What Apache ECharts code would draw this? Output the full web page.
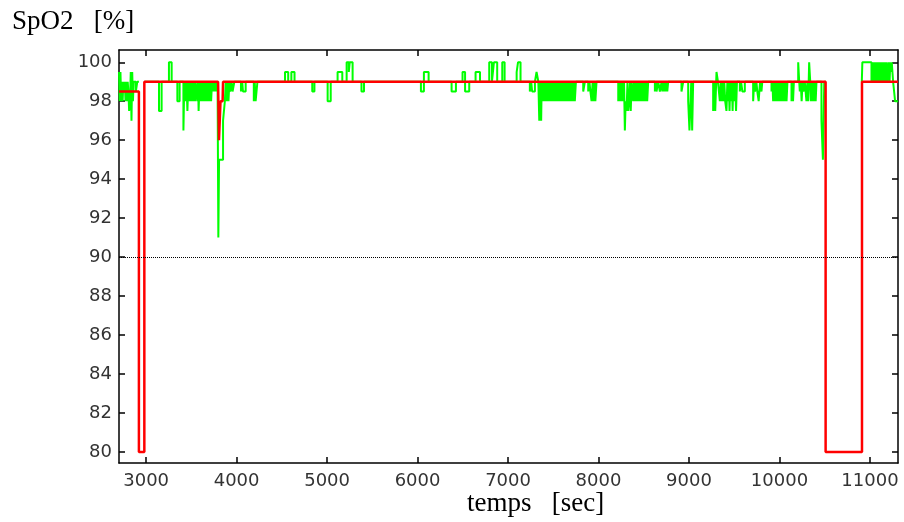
<!DOCTYPE html>
<html>
<head>
<meta charset="utf-8">
<script src="https://cdn.jsdelivr.net/npm/echarts@6/dist/echarts.min.js"></script>
<style>
  html, body { margin: 0; padding: 0; background: #fff; }
  #main { width: 904px; height: 522px; }
</style>
</head>
<body>
<div id="main"></div>
<script>
// tick labels
var xTicks = [3000, 4000, 5000, 6000, 7000, 8000, 9000, 10000, 11000];
var yTicks = [80, 82, 84, 86, 88, 90, 92, 94, 96, 98, 100];

// SpO2 mesuree (vert), valeur tenue jusqu'au point suivant, null = pas de signal
var greenTime = [
  // debut
  2700, 2708, 2716, 2724, 2732, 2740, 2748, 2756, 2764, 2772, 2780, 2788, 2796, 2804, 2812,
  2822, 2830, 2838, 2846, 2854, 2862, 2886, 2902, 2920,
  // 3000 - 4300
  2985, 3142, 3171, 3252, 3282, 3345, 3370, 3412, 3418, 3428, 3436, 3446, 3456, 3466, 3474,
  3484, 3492, 3500, 3508, 3516, 3524, 3532, 3540, 3548, 3565, 3574, 3580, 3590, 3602, 3610,
  3618, 3626, 3634, 3644, 3652, 3660, 3668, 3676, 3684, 3692, 3700, 3710, 3718, 3728, 3736,
  3744, 3752, 3760, 3768, 3776, 3790, 3798, 3806, 3850, 3870, 3880, 3890, 3900, 3910, 3920,
  3930, 3945, 3955, 3975, 4048, 4062, 4070, 4100, 4190, 4200, 4210, 4230,
  // 4500 - 7200
  4535, 4570, 4605, 4640, 4836, 4860, 5006, 5040, 5116, 5168, 5216, 5240, 5250, 5282, 5380,
  5408, 6037, 6070, 6122, 6376, 6424, 6497, 6525, 6571, 6641, 6690, 6792, 6822, 6844, 6880,
  6936, 6962, 7095, 7110, 7138,
  // 7200 - 8000
  7241, 7256, 7266, 7297, 7315, 7335, 7345, 7352, 7358, 7366, 7372, 7380, 7390, 7398, 7406,
  7414, 7422, 7432, 7440, 7448, 7456, 7464, 7472, 7480, 7490, 7500, 7508, 7516, 7524, 7536,
  7546, 7554, 7562, 7570, 7580, 7590, 7598, 7606, 7614, 7622, 7630, 7640, 7648, 7656, 7664,
  7672, 7680, 7690, 7698, 7706, 7714, 7722, 7730, 7738, 7750, 7831, 7849, 7886, 7900, 7910,
  7923, 7935, 7945, 7955, 7965, 7978,
  // 8200 - 9100
  8218, 8228, 8236, 8246, 8254, 8264, 8272, 8282, 8291, 8300, 8310, 8320, 8328, 8338, 8348,
  8356, 8366, 8383, 8392, 8400, 8410, 8418, 8426, 8434, 8444, 8452, 8460, 8470, 8478, 8486,
  8494, 8502, 8512, 8520, 8530, 8538, 8549, 8623, 8633, 8641, 8660, 8678, 8697, 8705, 8715,
  8723, 8733, 8741, 8751, 8760, 8770, 8917, 8936, 8991, 9005, 9025, 9035, 9046,
  // 9200 - 10500
  9267, 9280, 9290, 9304, 9320, 9341, 9351, 9360, 9370, 9380, 9390, 9400, 9414, 9424, 9432,
  9440, 9448, 9456, 9464, 9474, 9482, 9490, 9500, 9510, 9520, 9530, 9562, 9575, 9590, 9617,
  9709, 9720, 9730, 9745, 9755, 9770, 9785, 9801, 9810, 9912, 9922, 9930, 9940, 9948, 9958,
  9966, 9976, 9984, 9994, 10002, 10012, 10020, 10030, 10038, 10048, 10056, 10066, 10078, 10088, 10133,
  10145, 10150, 10159, 10207, 10218, 10225, 10235, 10245, 10255, 10265, 10280, 10298, 10308, 10318, 10328,
  10340, 10348, 10356, 10364, 10374, 10382, 10392, 10400, 10409, 10464, 10480, 10495, 10512,
  // fin
  10910, 10916, 11017, 11025, 11033, 11041, 11049, 11057, 11065, 11073, 11081, 11089, 11097, 11105, 11113,
  11121, 11129, 11137, 11145, 11153, 11161, 11169, 11177, 11185, 11193, 11201, 11209, 11217, 11225, 11233,
  11241, 11256, 11278, 11310
];
var greenValue = [
  99.5, 98, 99.5, 98, 99, 98, 99, 98.5, 99, 98, 99, 98, 99, 98.5, 97.5,
  98, 99.5, 97, 99.5, 98, 99, 98.5, 99, null,
  99, 97.5, 99, 100, 99, 98, 99, 96.5, 98, 99, 98, 99, 97.5, 99, 98,
  99, 98, 99, 98, 99, 98, 99, 98, 99, 98, 99, 97.5, 99, 98, 99,
  98, 99, 98, 99, 98, 99, 98, 99, 98, 99, 98, 99, 98, 99, 98.5,
  99, 98.5, 99, 98.5, 99, 98.5, 91, 95, 97, 98, 99, 98, 99, 98, 99,
  98.5, 99, 98.5, 99, 98.5, 99, 98.5, 99, 98, 99, 98, 99,
  99.5, 99, 99.5, 99, 98.5, 99, 98, 99, 99.5, 99, 100, 99.5, 100, 99, 98.5,
  99, 98.5, 99.5, 99, 98.5, 99, 99.5, 98.5, 99, 99.5, 99, 100, 99, 100, 99,
  100, 99, 99.5, 100, 99,
  98.5, 99, 98.5, 99, 99.5, 99, 97, 99, 98, 97, 99, 98, 99, 98, 99,
  98, 99, 98, 99, 98, 99, 98, 99, 98, 99, 98, 99, 98, 99, 98,
  99, 98, 99, 98, 99, 98, 99, 98, 99, 98, 99, 98, 99, 98, 99,
  98, 99, 98, 99, 98, 99, 98, 99, 98, 99, 98.5, 99, 98.5, 99, 98.5,
  98, 99, 98, 99, 98, 99,
  98, 99, 98, 99, 98, 99, 98, 99, 96.5, 98, 97.5, 99, 97.5, 98, 99,
  97.5, 99, 98, 99, 98, 99, 98, 99, 98, 99, 98, 99, 98, 99, 98,
  99, 98, 99, 98, 99, 98, 99, 98.5, 99, 98.5, 99, 98.5, 99, 98.5, 99,
  98.5, 99, 98.5, 99, 98.5, 99, 98.5, 99, 98, 96.5, 99, 96.5, 99,
  97.5, 99, 97.5, 99.5, 99, 98, 99, 98, 99, 98, 99, 98, 97.5, 99, 98,
  99, 97.5, 99, 98, 99, 97.5, 99, 98, 99, 97.5, 99, 98.5, 99, 98.5, 99,
  98, 99, 98.5, 99, 98.5, 98, 99, 98.5, 99, 98.5, 99, 98, 99, 98, 99,
  98, 99, 98, 99, 98, 99, 98, 99, 98, 99, 98, 99, 98, 99, 98,
  99, 98, 99, 100, 99, 98.5, 99, 98, 99, 98.5, 99, 98, 99, 98, 100,
  99, 98, 99, 98, 99, 98, 99, 98, 99, 97, 95, 99, null,
  99, 100, 99, 100, 99, 100, 99, 100, 99, 100, 99, 100, 99, 100, 99,
  100, 99, 100, 99, 100, 99, 100, 99, 100, 99, 99.5, 100, 99, 100, 99.5,
  100, 99, 98, 98
];

// courbe rouge
var redTime = [2700, 2920, 2920, 2980, 2980, 3795, 3805, 3812, 3822, 3845, 3850, 10510, 10510, 10912, 10912, 11310];
var redValue = [98.5, 98.5, 80, 80, 99, 99, 96, 96, 98, 98, 99, 99, 80, 80, 99, 99];

function pairs(t, v) {
  return t.map(function (x, i) { return [x, v[i] === null ? '-' : v[i]]; });
}

var chart = echarts.init(document.getElementById('main'), null, { renderer: 'canvas' });

var labelFont = { fontFamily: 'DejaVu Sans', fontSize: 18, color: '#333' };
var lineBlack = { color: '#000', width: 1.5 };

var option = {
  animation: false,
  grid: { left: 119, right: 6, top: 50, bottom: 59 },
  xAxis: [{
    type: 'value', min: 2700, max: 11310, position: 'bottom',
    axisLine: { onZero: false, lineStyle: lineBlack },
    axisTick: { inside: true, length: 6, lineStyle: lineBlack, customValues: xTicks },
    axisLabel: Object.assign({
      margin: 9, customValues: xTicks,
      formatter: function (v) { return String(v); }
    }, labelFont),
    splitLine: { show: false }
  }, {
    type: 'value', min: 2700, max: 11310, position: 'top',
    axisLine: { onZero: false, lineStyle: lineBlack },
    axisTick: { inside: true, length: 6, lineStyle: lineBlack, customValues: xTicks },
    axisLabel: { show: false },
    splitLine: { show: false }
  }],
  yAxis: [{
    type: 'value', min: 79.43, max: 100.63, position: 'left',
    axisLine: { onZero: false, lineStyle: lineBlack },
    axisTick: { inside: true, length: 6, lineStyle: lineBlack, customValues: yTicks },
    axisLabel: Object.assign({ margin: 7, customValues: yTicks }, labelFont),
    splitLine: { show: false }
  }, {
    type: 'value', min: 79.43, max: 100.63, position: 'right',
    axisLine: { onZero: false, lineStyle: lineBlack },
    axisTick: { inside: true, length: 6, lineStyle: lineBlack, customValues: yTicks },
    axisLabel: { show: false },
    splitLine: { show: false }
  }],
  series: [{
    type: 'line', step: 'end', showSymbol: false, z: 2,
    data: pairs(greenTime, greenValue),
    lineStyle: { color: '#00ff00', width: 2 },
    markLine: {
      silent: true, symbol: 'none', label: { show: false },
      lineStyle: { color: '#000', type: 'dotted', width: 1 },
      data: [{ yAxis: 90 }]
    }
  }, {
    type: 'line', showSymbol: false, z: 3,
    data: pairs(redTime, redValue),
    lineStyle: { color: '#ff0000', width: 2.5 }
  }],
  graphic: [{
    type: 'text', left: 12, top: 8,
    style: { text: 'SpO2   [%]', font: '27px "Liberation Serif"', fill: '#000' }
  }, {
    type: 'text', left: 467, top: 490,
    style: { text: 'temps   [sec]', font: '27px "Liberation Serif"', fill: '#000' }
  }]
};

chart.setOption(option);
</script>
</body>
</html>
